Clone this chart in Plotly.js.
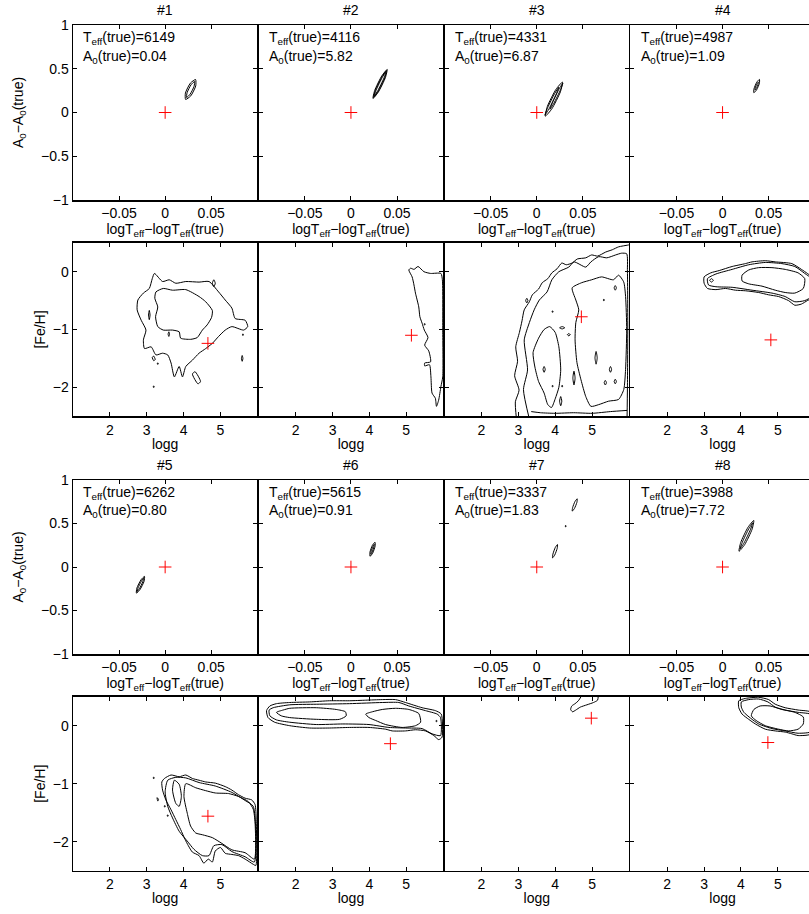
<!DOCTYPE html>
<html>
<head>
<meta charset="utf-8">
<script src="https://cdn.plot.ly/plotly-3.0.1.min.js"></script>
<style>
html, body { margin: 0; padding: 0; overflow: hidden; background: #fff; }
#chart { width: 830px; height: 914px; }
</style>
</head>
<body>
<div id="chart"></div>
<script>
// True stellar parameters of the eight test stars
const teffTrue = [6149, 4116, 4331, 4987, 6262, 5615, 3337, 3988];
const a0True = [0.04, 5.82, 6.87, 1.09, 0.80, 0.91, 1.83, 7.72];
const loggTrue = [4.66, 5.14, 4.71, 4.81, 4.66, 4.57, 4.98, 4.73];
const fehTrue = [-1.24, -1.10, -0.78, -1.18, -1.56, -0.31, 0.13, -0.29];

// Posterior contours in (logTeff - logTeff(true), A0 - A0(true)); null separates paths
const dTeff1 = [0.0222,0.0278,0.0332,0.0330,0.0274,0.0220,0.0222,null,0.0233,0.0271,0.0314,0.0319,0.0281,0.0238,0.0233];
const dA01 = [0.149,0.190,0.304,0.377,0.336,0.222,0.149,null,0.172,0.209,0.300,0.354,0.317,0.226,0.172];
const dTeff2 = [0.0239,0.0297,0.0374,0.0393,0.0335,0.0258,0.0239,null,0.0245,0.0295,0.0366,0.0387,0.0338,0.0267,0.0245,null,0.0251,0.0292,0.0357,0.0381,0.0340,0.0275,0.0251];
const dA02 = [0.160,0.233,0.399,0.492,0.419,0.253,0.160,null,0.172,0.242,0.396,0.480,0.410,0.257,0.172,null,0.185,0.251,0.392,0.467,0.401,0.260,0.185];
const dTeff3 = [0.0093,0.0164,0.0257,0.0279,0.0208,0.0115,0.0093,null,0.0089,0.0135,0.0210,0.0239,0.0193,0.0118,0.0089,null,0.0144,0.0187,0.0257,0.0284,0.0241,0.0171,0.0144];
const dA03 = [-0.042,0.042,0.237,0.348,0.264,0.069,-0.042,null,-0.030,0.046,0.206,0.290,0.214,0.054,-0.030,null,0.037,0.108,0.258,0.337,0.266,0.116,0.037];
const dTeff4 = [0.0340,0.0369,0.0400,0.0400,0.0371,0.0341,0.0340,null,0.0352,0.0367,0.0385,0.0388,0.0373,0.0355,0.0352];
const dA04 = [0.226,0.258,0.334,0.378,0.346,0.270,0.226,null,0.256,0.277,0.322,0.348,0.327,0.282,0.256];
const dTeff5 = [-0.0312,-0.0274,-0.0229,-0.0224,-0.0262,-0.0307,-0.0312,null,-0.0303,-0.0278,-0.0243,-0.0233,-0.0258,-0.0293,-0.0303];
const dA05 = [-0.300,-0.261,-0.165,-0.108,-0.147,-0.243,-0.300,null,-0.281,-0.247,-0.170,-0.127,-0.162,-0.238,-0.281];
const dTeff6 = [0.0207,0.0235,0.0262,0.0261,0.0233,0.0206,0.0207,null,0.0215,0.0230,0.0249,0.0253,0.0238,0.0219,0.0215];
const dA06 = [0.123,0.158,0.239,0.285,0.250,0.169,0.123,null,0.147,0.173,0.230,0.261,0.235,0.178,0.147];
const dTeff7 = [0.0385,0.0409,0.0436,0.0439,0.0415,0.0389,0.0385,null,0.0311,0.0317,0.0317,0.0311,0.0311,null,0.0171,0.0195,0.0222,0.0225,0.0201,0.0175,0.0171];
const dA07 = [0.642,0.673,0.744,0.784,0.753,0.682,0.642,null,0.462,0.462,0.476,0.476,0.462,null,0.104,0.138,0.215,0.258,0.224,0.147,0.104];
const dTeff8 = [0.0179,0.0241,0.0321,0.0339,0.0277,0.0197,0.0179,null,0.0191,0.0234,0.0302,0.0327,0.0284,0.0216,0.0191];
const dA08 = [0.181,0.258,0.435,0.535,0.458,0.281,0.181,null,0.208,0.278,0.428,0.508,0.438,0.288,0.208];

// Posterior contours in (logg, [Fe/H]); null separates paths
const logg1 = [3.21,3.43,3.61,3.79,4.06,4.42,4.69,4.95,5.13,5.31,5.40,5.67,5.74,5.63,5.31,5.13,4.95,4.78,4.60,4.42,4.24,4.06,3.97,3.88,3.75,3.66,3.57,3.43,3.25,3.12,2.94,2.91,2.98,2.85,2.74,2.76,2.91,3.07,3.15,3.21,null,
  3.25,3.45,3.70,4.06,4.42,4.60,4.78,4.76,4.64,4.51,4.37,4.19,3.92,3.88,3.70,3.45,3.30,3.24,3.30,3.22,3.25,null,
  4.82,4.86,4.82,4.78,4.82,null,3.07,3.09,3.07,3.05,3.07,null,3.60,3.62,3.60,3.58,3.60,null,3.15,3.19,3.23,3.19,3.15,null,
  4.24,4.31,4.46,4.39,4.24,null,5.59,5.61,5.59,5.57,5.59,null,5.60,5.62,5.62,5.60,5.60,null,3.18,3.20,3.20,3.18,3.18,null,3.29,3.31,3.31,3.29,3.29];
const feh1 = [-0.03,-0.17,-0.14,-0.20,-0.17,-0.18,-0.17,-0.35,-0.49,-0.63,-0.81,-0.84,-0.95,-1.01,-0.95,-1.01,-1.12,-1.24,-1.33,-1.41,-1.53,-1.64,-1.82,-1.64,-1.82,-1.58,-1.44,-1.41,-1.44,-1.30,-1.33,-1.18,-1.01,-0.84,-0.66,-0.49,-0.37,-0.29,-0.12,-0.03,null,
  -0.35,-0.29,-0.32,-0.31,-0.43,-0.52,-0.67,-0.79,-0.92,-1.01,-1.14,-1.17,-1.15,-1.04,-1.01,-1.01,-0.95,-0.78,-0.61,-0.46,-0.35,null,
  -0.14,-0.20,-0.26,-0.20,-0.14,null,-0.67,-0.75,-0.83,-0.75,-0.67,null,-1.04,-1.08,-1.12,-1.08,-1.04,null,-1.48,-1.46,-1.52,-1.54,-1.48,null,
  -1.77,-1.73,-1.90,-1.94,-1.77,null,-1.45,-1.50,-1.55,-1.50,-1.45,null,-1.08,-1.08,-1.10,-1.10,-1.08,null,-1.98,-1.98,-2.00,-2.00,-1.98,null,-1.58,-1.58,-1.60,-1.60,-1.58];
const logg2 = [5.07,5.16,5.21,5.25,5.34,5.37,5.43,5.49,5.59,5.50,5.61,5.66,5.50,5.50,5.63,5.67,5.70,5.79,5.82,5.88,5.94,5.99,5.99,5.98,5.94,5.66,5.48,5.32,5.21,5.12,5.07,null,
  5.49,5.51,5.51,5.49,5.49];
const feh2 = [0.03,-0.09,-0.23,-0.37,-0.61,-0.78,-0.89,-1.01,-1.14,-1.27,-1.37,-1.56,-1.58,-1.63,-1.61,-1.82,-2.10,-2.19,-2.33,-2.22,-1.99,-1.82,-1.01,-0.14,-0.03,-0.03,0.00,0.09,0.04,0.06,0.03,null,
  -0.90,-0.90,-0.92,-0.92,-0.90];
const logg3 = [2.95,2.92,3.02,2.90,2.98,2.93,3.03,3.10,3.16,3.30,3.38,3.55,3.65,3.80,3.91,4.05,4.18,4.30,4.46,4.60,4.83,4.99,5.15,5.37,5.55,5.72,5.97,6.05,null,
  3.30,3.14,3.25,3.16,3.30,3.43,3.57,3.78,3.91,4.10,4.37,4.51,4.83,4.97,5.18,5.40,5.64,5.80,5.94,5.96,5.97,5.96,5.95,null,
  4.46,4.72,4.99,5.26,5.58,5.72,5.86,5.91,5.94,5.91,5.86,5.72,5.45,5.18,4.97,4.83,4.70,4.59,4.54,4.56,4.64,4.56,4.46,null,
  3.40,3.55,3.70,3.85,4.00,4.10,4.15,4.10,4.00,3.90,3.80,3.70,3.55,3.45,3.40,null,
  3.35,3.60,4.00,4.50,5.00,5.50,5.95,null,
  3.20,3.23,3.26,3.23,3.20,null,3.92,3.94,3.94,3.92,3.92,null,4.12,4.19,4.26,4.19,4.12,null,4.33,4.37,4.41,4.37,4.33,null,
  5.11,5.14,5.11,5.08,5.11,null,4.51,4.54,4.51,4.48,4.51,null,5.60,5.63,5.66,5.63,5.60,null,5.47,5.50,5.53,5.50,5.47,null,
  5.31,5.33,5.33,5.31,5.31,null,5.60,5.63,5.66,5.63,5.60,null,3.92,3.94,3.94,3.92,3.92,null,4.18,4.20,4.20,4.18,4.18,null,
  4.15,4.18,4.15,4.12,4.15,null,5.33,5.36,5.39,5.36,5.33,null,3.67,3.70,3.73,3.70,3.67];
const feh3 = [-2.55,-2.25,-2.05,-1.80,-1.55,-1.30,-1.05,-0.85,-0.66,-0.52,-0.40,-0.30,-0.19,-0.12,-0.02,0.05,0.15,0.12,0.15,0.22,0.24,0.29,0.27,0.34,0.38,0.43,0.46,0.47,null,
  -2.55,-2.04,-1.70,-1.18,-0.88,-0.66,-0.49,-0.35,-0.14,0.00,0.08,0.17,0.08,0.17,0.26,0.24,0.29,0.32,0.31,0.00,-1.00,-2.00,-2.55,null,
  -0.28,-0.19,-0.14,-0.09,-0.14,-0.06,-0.18,-0.43,-1.00,-1.69,-2.04,-2.21,-2.24,-2.30,-2.33,-2.16,-1.87,-1.57,-1.18,-0.88,-0.66,-0.49,-0.28,null,
  -1.40,-1.15,-1.00,-0.95,-1.05,-1.30,-1.70,-2.00,-2.20,-2.35,-2.30,-2.10,-1.90,-1.65,-1.40,null,
  -2.42,-2.44,-2.45,-2.44,-2.45,-2.42,-2.40,null,
  -0.50,-0.46,-0.50,-0.54,-0.50,null,-0.68,-0.68,-0.70,-0.70,-0.68,null,-0.97,-0.95,-0.97,-0.99,-0.97,null,-1.09,-1.07,-1.09,-1.11,-1.09,null,
  -1.38,-1.49,-1.60,-1.49,-1.38,null,-1.72,-1.84,-1.96,-1.84,-1.72,null,-1.90,-1.86,-1.90,-1.94,-1.90,null,-1.69,-1.64,-1.69,-1.74,-1.69,null,
  -0.48,-0.48,-0.50,-0.50,-0.48,null,-0.28,-0.24,-0.28,-0.32,-0.28,null,-1.97,-1.97,-1.99,-1.99,-1.97,null,-1.97,-1.97,-1.99,-1.99,-1.97,null,
  -2.16,-2.24,-2.32,-2.24,-2.16,null,-1.92,-1.88,-1.92,-1.96,-1.92,null,-1.69,-1.64,-1.69,-1.74,-1.69];
const logg4 = [3.00,3.18,3.41,3.76,4.12,4.30,4.66,4.93,5.38,5.64,5.80,5.91,5.91,5.80,5.64,5.46,5.29,5.02,4.75,4.48,4.12,3.85,3.58,3.32,3.09,3.00,3.00,null,
  3.09,3.32,3.76,4.21,4.66,5.11,5.46,5.73,5.91,5.91,5.73,5.46,5.20,4.84,4.30,3.76,3.32,3.12,3.09,null,
  4.03,4.21,4.48,4.84,5.20,5.55,5.73,5.69,5.46,5.20,4.93,4.57,4.21,4.03,4.03,null,
  3.15,3.20,3.25,3.20,3.15];
const feh4 = [-0.09,-0.02,0.02,0.09,0.14,0.17,0.19,0.17,0.14,0.04,-0.03,-0.09,-0.46,-0.50,-0.56,-0.58,-0.50,-0.43,-0.40,-0.36,-0.33,-0.32,-0.29,-0.31,-0.29,-0.20,-0.09,null,
  -0.12,-0.04,0.04,0.12,0.16,0.14,0.09,-0.03,-0.12,-0.43,-0.50,-0.52,-0.43,-0.37,-0.32,-0.27,-0.26,-0.23,-0.12,null,
  -0.06,0.03,0.07,0.07,0.04,-0.02,-0.12,-0.29,-0.37,-0.36,-0.32,-0.25,-0.21,-0.16,-0.06,null,
  -0.15,-0.12,-0.15,-0.18,-0.15];
const logg5 = [3.48,3.66,3.88,4.06,4.24,4.42,4.60,4.86,5.13,5.31,5.49,5.67,5.85,5.94,5.97,5.96,5.89,5.67,5.49,5.31,5.13,5.00,4.86,4.78,4.67,4.55,4.42,4.24,4.13,4.04,3.92,3.79,3.66,3.52,3.43,3.41,3.48,null,
  3.57,3.79,4.06,4.42,4.86,5.31,5.67,5.89,5.92,5.67,5.31,5.04,4.82,4.69,4.51,4.28,4.10,3.88,3.70,3.57,3.50,3.57,null,
  4.06,4.33,4.60,4.86,5.22,5.49,5.76,5.89,5.94,5.92,5.67,5.31,5.04,4.78,4.51,4.33,4.19,4.10,4.01,4.06,null,
  3.75,3.88,3.94,3.88,3.79,3.70,3.75,null,
  3.18,3.20,3.20,3.18,3.18,null,3.28,3.32,3.30,3.28,null,3.48,3.50,3.50,3.48,3.48,null,3.56,3.58,3.58,3.56,3.56];
const feh5 = [-0.91,-0.85,-0.88,-0.85,-0.91,-0.94,-0.97,-0.99,-1.05,-1.11,-1.19,-1.25,-1.28,-1.36,-1.62,-2.41,-2.39,-2.30,-2.24,-2.22,-2.20,-2.10,-2.16,-2.35,-2.30,-2.37,-2.24,-2.18,-2.07,-1.96,-1.79,-1.62,-1.45,-1.28,-1.11,-0.97,-0.91,null,
  -0.94,-0.89,-0.90,-0.98,-1.04,-1.15,-1.29,-1.39,-2.35,-2.26,-2.17,-2.05,-2.07,-2.24,-2.24,-2.13,-1.99,-1.82,-1.59,-1.39,-1.14,-0.94,null,
  -1.00,-1.07,-1.12,-1.16,-1.17,-1.22,-1.31,-1.44,-1.68,-2.30,-2.19,-2.14,-2.03,-1.93,-1.88,-1.85,-1.73,-1.51,-1.22,-1.00,null,
  -0.94,-1.01,-1.22,-1.39,-1.34,-1.11,-0.94,null,
  -0.89,-0.89,-0.91,-0.91,-0.89,null,-1.24,-1.27,-1.30,-1.24,null,-1.38,-1.38,-1.40,-1.40,-1.38,null,-1.54,-1.54,-1.56,-1.56,-1.54];
const logg6 = [1.21,1.30,1.48,1.84,2.38,2.92,3.46,3.90,4.35,4.71,4.98,5.43,5.79,5.95,5.97,5.88,5.75,5.52,5.25,4.98,4.62,4.44,3.99,3.46,2.92,2.38,1.84,1.43,1.25,1.21,null,
  1.28,1.39,1.84,2.56,3.46,4.35,4.80,5.07,5.52,5.84,5.93,5.93,5.70,5.43,4.98,4.53,3.99,3.28,2.56,1.84,1.48,1.30,1.28,null,
  1.48,1.66,1.84,2.56,3.10,3.35,3.37,3.19,2.56,1.84,1.61,1.48,null,
  3.90,4.08,4.35,4.71,5.07,5.34,5.39,5.25,4.89,4.44,4.17,3.99,3.90,null,
  5.81,5.83,5.83,5.81,5.81];
const feh6 = [0.26,0.34,0.38,0.40,0.41,0.43,0.43,0.44,0.45,0.45,0.40,0.31,0.26,0.20,-0.20,-0.24,-0.17,-0.09,-0.07,-0.09,-0.09,-0.06,-0.03,-0.03,-0.04,-0.04,0.00,0.06,0.14,0.26,null,
  0.27,0.31,0.36,0.37,0.38,0.40,0.40,0.34,0.26,0.20,0.14,-0.17,-0.14,-0.05,-0.04,-0.03,0.02,0.03,0.02,0.06,0.10,0.17,0.27,null,
  0.23,0.27,0.30,0.31,0.28,0.24,0.17,0.11,0.11,0.14,0.17,0.23,null,
  0.20,0.24,0.28,0.30,0.28,0.21,0.06,0.00,-0.03,0.02,0.09,0.14,0.20,null,
  0.09,0.09,0.07,0.07,0.09];
const logg7 = [4.72,4.63,4.54,4.45,4.42,4.47,4.56,4.68,4.86,5.04,5.15,5.17];
const feh7 = [0.52,0.43,0.38,0.34,0.28,0.24,0.27,0.32,0.36,0.40,0.44,0.52];
const logg8 = [3.94,4.12,4.48,4.75,4.93,5.20,5.55,5.91,5.91,5.55,5.38,5.20,4.93,4.66,4.39,4.21,4.03,3.94,3.94,null,
  4.01,4.21,4.48,4.73,4.93,5.20,5.55,5.91,5.91,5.55,5.20,4.84,4.48,4.26,4.08,4.01,4.01,null,
  4.28,4.35,4.52,4.79,5.11,5.46,5.69,5.69,5.55,5.29,5.02,4.66,4.41,4.28];
const feh8 = [0.43,0.47,0.49,0.45,0.37,0.31,0.27,0.23,-0.14,-0.17,-0.14,-0.11,-0.09,-0.06,0.03,0.11,0.20,0.31,0.43,null,
  0.41,0.45,0.46,0.41,0.32,0.27,0.23,0.19,-0.10,-0.13,-0.09,-0.05,0.03,0.13,0.23,0.32,0.41,null,
  0.17,0.28,0.34,0.34,0.28,0.23,0.15,0.03,-0.06,-0.09,-0.06,0.00,0.09,0.17];

const dTeff = [dTeff1, dTeff2, dTeff3, dTeff4, dTeff5, dTeff6, dTeff7, dTeff8];
const dA0 = [dA01, dA02, dA03, dA04, dA05, dA06, dA07, dA08];
const logg = [logg1, logg2, logg3, logg4, logg5, logg6, logg7, logg8];
const feh = [feh1, feh2, feh3, feh4, feh5, feh6, feh7, feh8];

// Page geometry (px): neighbouring panels are spaced so their frame lines coincide
const W = 830, H = 914;
const frameW = 1.5;
const colStep = 185.8, colW = colStep - frameW;
const colLeft = [0, 1, 2, 3].map(i => 73 + i * colStep);
const rows = [[25, 200], [242.8, 416.2], [480, 654], [696.7, 870.7]];

const sfx = id => (id === 1 ? '' : String(id));
const baseAxis = {
  showline: true, linecolor: 'black', linewidth: frameW, mirror: 'ticks',
  ticks: 'inside', ticklen: 4, tickwidth: 1, tickcolor: 'black',
  showgrid: false, zeroline: false, fixedrange: true,
  tickfont: { size: 14, color: 'black' }
};

const layout = {
  width: W, height: H, margin: { l: 0, r: 0, t: 0, b: 0 },
  showlegend: false, hovermode: false,
  paper_bgcolor: 'white', plot_bgcolor: 'white',
  font: { family: 'Liberation Sans, Arial, Helvetica, sans-serif', size: 14, color: 'black' },
  annotations: []
};
const traces = [];

for (let k = 0; k < 8; k++) {
  const col = k % 4, blk = Math.floor(k / 4);
  const rTop = rows[2 * blk], rBot = rows[2 * blk + 1];
  const t = 2 * k + 1, b = 2 * k + 2;
  const xDom = [colLeft[col] / W, (colLeft[col] + colW) / W];

  layout['xaxis' + sfx(t)] = Object.assign({}, baseAxis, {
    domain: xDom, range: [-0.1, 0.1], tickvals: [-0.05, 0, 0.05], anchor: 'y' + sfx(t),
    title: { text: 'logT<sub>eff</sub>\u2212logT<sub>eff</sub>(true)', standoff: 2, font: { size: 14 } }
  });
  const yTop = Object.assign({}, baseAxis, {
    domain: [1 - rTop[1] / H, 1 - rTop[0] / H], range: [-1, 1], tickvals: [-1, -0.5, 0, 0.5, 1],
    anchor: 'x' + sfx(t), showticklabels: col === 0
  });
  if (col === 0) yTop.title = { text: 'A<sub>0</sub>\u2212A<sub>0</sub>(true)', standoff: 14, font: { size: 14 } };
  layout['yaxis' + sfx(t)] = yTop;

  layout['xaxis' + sfx(b)] = Object.assign({}, baseAxis, {
    domain: xDom, range: [1, 6], tickvals: [2, 3, 4, 5], anchor: 'y' + sfx(b),
    title: { text: 'logg', standoff: 2, font: { size: 14 } }
  });
  const yBot = Object.assign({}, baseAxis, {
    domain: [1 - rBot[1] / H, 1 - rBot[0] / H], range: [-2.5, 0.5], tickvals: [-2, -1, 0],
    anchor: 'x' + sfx(b), showticklabels: col === 0
  });
  if (col === 0) yBot.title = { text: '[Fe/H]', standoff: 4, font: { size: 14 } };
  layout['yaxis' + sfx(b)] = yBot;

  const line = { color: 'black', width: 1, shape: 'spline', smoothing: 0.6 };
  traces.push({ type: 'scatter', mode: 'lines', x: dTeff[k], y: dA0[k], xaxis: 'x' + sfx(t), yaxis: 'y' + sfx(t), line: line, connectgaps: false, hoverinfo: 'skip' });
  traces.push({ type: 'scatter', mode: 'lines', x: logg[k], y: feh[k], xaxis: 'x' + sfx(b), yaxis: 'y' + sfx(b), line: line, connectgaps: false, hoverinfo: 'skip' });

  const cross = { symbol: 'cross-thin', size: 9, color: 'red', line: { color: 'red', width: 1 } };
  traces.push({ type: 'scatter', mode: 'markers', x: [0], y: [0], xaxis: 'x' + sfx(t), yaxis: 'y' + sfx(t), marker: cross, hoverinfo: 'skip' });
  traces.push({ type: 'scatter', mode: 'markers', x: [loggTrue[k]], y: [fehTrue[k]], xaxis: 'x' + sfx(b), yaxis: 'y' + sfx(b), marker: cross, hoverinfo: 'skip' });

  layout.annotations.push({
    text: '#' + (k + 1), showarrow: false,
    xref: 'x' + sfx(t) + ' domain', yref: 'y' + sfx(t) + ' domain',
    x: 0.5, y: 1, xanchor: 'center', yanchor: 'bottom', yshift: 5, font: { size: 14 }
  });
  layout.annotations.push({
    text: 'T<sub>eff</sub>(true)=' + teffTrue[k], showarrow: false,
    xref: 'x' + sfx(t) + ' domain', yref: 'y' + sfx(t) + ' domain',
    x: 0.045, y: 0.925, xanchor: 'left', yanchor: 'middle', font: { size: 14 }
  });
  layout.annotations.push({
    text: 'A<sub>0</sub>(true)=' + a0True[k].toFixed(2), showarrow: false,
    xref: 'x' + sfx(t) + ' domain', yref: 'y' + sfx(t) + ' domain',
    x: 0.045, y: 0.82, xanchor: 'left', yanchor: 'middle', font: { size: 14 }
  });
}

Plotly.newPlot('chart', traces, layout, { staticPlot: true, displayModeBar: false });
</script>
</body>
</html>
